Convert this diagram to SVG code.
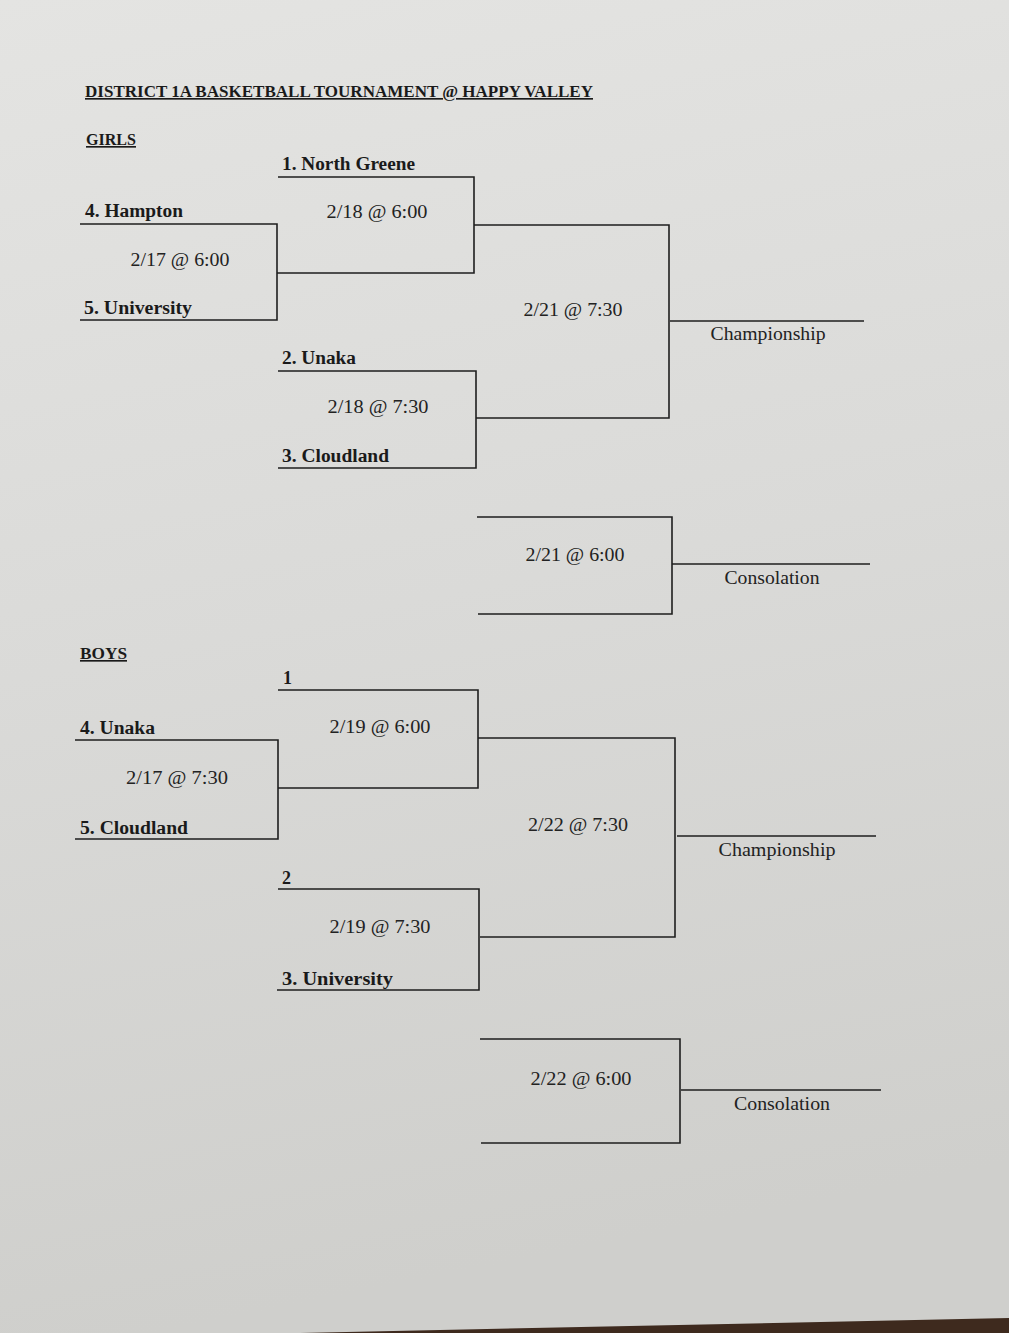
<svg xmlns="http://www.w3.org/2000/svg" width="1009" height="1333" viewBox="0 0 1009 1333">
<defs>
<linearGradient id="paper" x1="0" y1="0" x2="0.15" y2="1">
<stop offset="0" stop-color="#e4e4e2"/>
<stop offset="0.5" stop-color="#dadad8"/>
<stop offset="1" stop-color="#cfcfcc"/>
</linearGradient>
<style>
.ln{fill:none;stroke:#1e1e1e;stroke-width:1.6}
.team{font-family:"Liberation Serif","Times New Roman",serif;font-weight:bold;font-size:18px;fill:#1a1a1a}
.date{font-family:"Liberation Serif","Times New Roman",serif;font-size:18.5px;fill:#222;text-anchor:middle}
.lbl{font-family:"Liberation Serif","Times New Roman",serif;font-size:18px;fill:#222;text-anchor:middle}
.head{font-family:"Liberation Serif","Times New Roman",serif;font-weight:bold;font-size:16.5px;fill:#1a1a1a;text-decoration:underline}
</style>
</defs>
<rect x="0" y="0" width="1009" height="1333" fill="url(#paper)"/>
<polygon points="300,1333 1009,1318 1009,1333" fill="#3e2a1e"/>

<g id="headings">
<text class="head" x="85" y="97" textLength="508" lengthAdjust="spacingAndGlyphs">DISTRICT 1A BASKETBALL TOURNAMENT @ HAPPY VALLEY</text>
<text class="head" x="86" y="145" textLength="50" lengthAdjust="spacingAndGlyphs">GIRLS</text>
<text class="head" x="80" y="659" textLength="47" lengthAdjust="spacingAndGlyphs">BOYS</text>
</g>

<g id="connectors">
<!-- Girls -->
<path class="ln" d="M80,224 H277 V320 H80"/>
<path class="ln" d="M278,177 H474 V273 H277"/>
<path class="ln" d="M278,371 H476 V468 H278"/>
<path class="ln" d="M474,225 H669 V418 H476"/>
<path class="ln" d="M670,321 H864"/>
<path class="ln" d="M477,517 H672 V614 H478"/>
<path class="ln" d="M672,564 H870"/>
<!-- Boys -->
<path class="ln" d="M75,740 H278 V839 H75"/>
<path class="ln" d="M278,690 H478 V788 H278"/>
<path class="ln" d="M278,889 H479 V990 H277"/>
<path class="ln" d="M478,738 H675 V937 H480"/>
<path class="ln" d="M677,836 H876"/>
<path class="ln" d="M480,1039 H680 V1143 H481"/>
<path class="ln" d="M681,1090 H881"/>
</g>

<g id="girls-r1">
<text class="team" x="85" y="217" textLength="98" lengthAdjust="spacingAndGlyphs">4. Hampton</text>
<text class="team" x="84" y="314" textLength="108" lengthAdjust="spacingAndGlyphs">5. University</text>
<text class="date" x="180" y="266" textLength="99" lengthAdjust="spacingAndGlyphs">2/17 @ 6:00</text>
</g>
<g id="girls-sf1">
<text class="team" x="282" y="170" textLength="133" lengthAdjust="spacingAndGlyphs">1. North Greene</text>
<text class="date" x="377" y="218" textLength="101" lengthAdjust="spacingAndGlyphs">2/18 @ 6:00</text>
</g>
<g id="girls-sf2">
<text class="team" x="282" y="364" textLength="74" lengthAdjust="spacingAndGlyphs">2. Unaka</text>
<text class="team" x="282" y="462" textLength="107" lengthAdjust="spacingAndGlyphs">3. Cloudland</text>
<text class="date" x="378" y="413" textLength="101" lengthAdjust="spacingAndGlyphs">2/18 @ 7:30</text>
</g>
<g id="girls-final">
<text class="date" x="573" y="316" textLength="99" lengthAdjust="spacingAndGlyphs">2/21 @ 7:30</text>
<text class="lbl" x="768" y="340" textLength="115" lengthAdjust="spacingAndGlyphs">Championship</text>
</g>
<g id="girls-consolation">
<text class="date" x="575" y="561" textLength="99" lengthAdjust="spacingAndGlyphs">2/21 @ 6:00</text>
<text class="lbl" x="772" y="584" textLength="95" lengthAdjust="spacingAndGlyphs">Consolation</text>
</g>

<g id="boys-r1">
<text class="team" x="80" y="734" textLength="75" lengthAdjust="spacingAndGlyphs">4. Unaka</text>
<text class="team" x="80" y="834" textLength="108" lengthAdjust="spacingAndGlyphs">5. Cloudland</text>
<text class="date" x="177" y="784" textLength="102" lengthAdjust="spacingAndGlyphs">2/17 @ 7:30</text>
</g>
<g id="boys-sf1">
<text class="team" x="283" y="684">1</text>
<text class="date" x="380" y="733" textLength="101" lengthAdjust="spacingAndGlyphs">2/19 @ 6:00</text>
</g>
<g id="boys-sf2">
<text class="team" x="282" y="884">2</text>
<text class="team" x="282" y="985" textLength="111" lengthAdjust="spacingAndGlyphs">3. University</text>
<text class="date" x="380" y="933" textLength="101" lengthAdjust="spacingAndGlyphs">2/19 @ 7:30</text>
</g>
<g id="boys-final">
<text class="date" x="578" y="831" textLength="100" lengthAdjust="spacingAndGlyphs">2/22 @ 7:30</text>
<text class="lbl" x="777" y="856" textLength="117" lengthAdjust="spacingAndGlyphs">Championship</text>
</g>
<g id="boys-consolation">
<text class="date" x="581" y="1085" textLength="101" lengthAdjust="spacingAndGlyphs">2/22 @ 6:00</text>
<text class="lbl" x="782" y="1110" textLength="96" lengthAdjust="spacingAndGlyphs">Consolation</text>
</g>
</svg>
